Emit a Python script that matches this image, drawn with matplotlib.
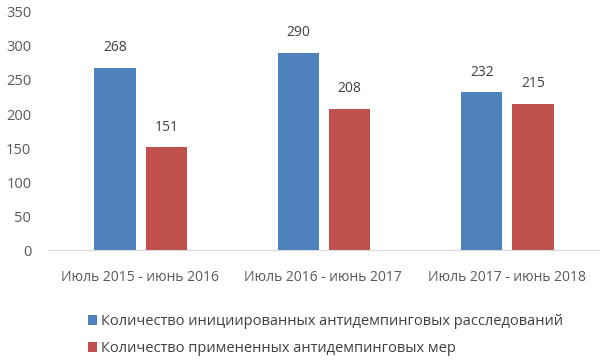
import matplotlib.pyplot as plt
import numpy as np

plt.rcParams['font.family'] = ['Open Sans', 'DejaVu Sans']

periods = ["Июль 2015 - июнь 2016", "Июль 2016 - июнь 2017", "Июль 2017 - июнь 2018"]
investigations = [268, 290, 232]
measures = [151, 208, 215]
series_names = ["Количество инициированных антидемпинговых расследований",
                "Количество примененных антидемпинговых мер"]
yticks = [0, 50, 100, 150, 200, 250, 300, 350]

blue = "#4F81BD"
red = "#C0504D"

fig = plt.figure(figsize=(6, 3.6), dpi=100)
ax = fig.add_axes([0.08, 0.305, 0.917, 0.662])

x = np.arange(len(periods))
w = 0.225
b1 = ax.bar(x - 0.135, investigations, w, color=blue, label=series_names[0])
b2 = ax.bar(x + 0.145, measures, w, color=red, label=series_names[1])

for bars in (b1, b2):
    for r in bars:
        ax.annotate(f"{int(r.get_height())}", (r.get_x() + r.get_width() / 2, r.get_height()),
                    xytext=(0, 9), textcoords="offset points", ha="center", va="bottom",
                    fontsize=10, color="#404040")

ax.set_xlim(-0.5, 2.5)
ax.set_ylim(0, 350)
ax.set_yticks(yticks)
ax.set_xticks(x)
ax.set_xticklabels(periods)
ax.tick_params(axis="both", length=0, labelsize=10, colors="#595959")
ax.tick_params(axis="y", labelsize=10.5, pad=12)
ax.tick_params(axis="x", pad=14)
for s in ["top", "right", "left"]:
    ax.spines[s].set_visible(False)
ax.spines["bottom"].set_color("#D9D9D9")

fig.legend(handles=[b1, b2], loc="upper left", bbox_to_anchor=(0.146, 0.128),
           frameon=False, fontsize=10.5, handlelength=0.65, handleheight=0.65,
           handletextpad=0.25, labelspacing=0.85, labelcolor="#404040",
           borderaxespad=0, borderpad=0)

fig.savefig("out.png", dpi=100)
